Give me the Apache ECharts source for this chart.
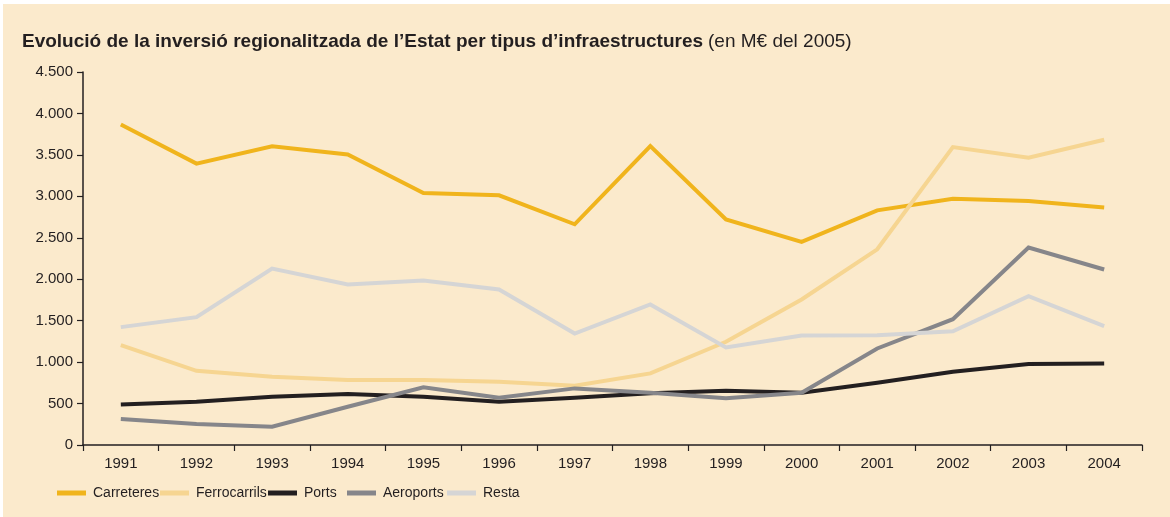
<!DOCTYPE html>
<html>
<head>
<meta charset="utf-8">
<script src="https://cdn.jsdelivr.net/npm/echarts@6/dist/echarts.min.js"></script>
<style>
  html, body { margin: 0; padding: 0; background: #ffffff; }
  #main { width: 1170px; height: 517px; }
</style>
</head>
<body>
<div id="main"></div>
<script>
  // anys
  let years = ['1991', '1992', '1993', '1994', '1995', '1996', '1997', '1998', '1999', '2000', '2001', '2002', '2003', '2004']
  // sèries (M€ del 2005)
  let names = ['Carreteres', 'Ferrocarrils', 'Ports', 'Aeroports', 'Resta']
  let carreteres = [3867, 3395, 3605, 3505, 3040, 3012, 2663, 3605, 2720, 2450, 2831, 2972, 2943, 2864]
  let ferrocarrils = [1205, 895, 823, 783, 783, 763, 715, 864, 1245, 1755, 2361, 3594, 3466, 3683]
  let ports = [490, 522, 582, 614, 582, 522, 570, 623, 654, 630, 751, 883, 976, 984]
  let aeroports = [313, 253, 220, 461, 695, 570, 683, 630, 563, 630, 1165, 1518, 2382, 2117]
  let resta = [1422, 1542, 2129, 1936, 1984, 1876, 1345, 1695, 1177, 1321, 1325, 1373, 1795, 1434]
  let yTicks = [0, 500, 1000, 1500, 2000, 2500, 3000, 3500, 4000, 4500]

  let ink = '#231f20'
  let font = "'Liberation Sans', sans-serif"
  let colors = ['#f0b41c', '#f6d591', '#231f20', '#86868a', '#d5d5d5']
  // posició de cada element de la llegenda
  let legendLeft = [57, 160, 268, 347, 447]

  function fmt(v) {
    return String(v).replace(/\B(?=(\d{3})+(?!\d))/g, '.')
  }

  function serie(i, data) {
    return {
      name: names[i],
      type: 'line',
      data: data,
      symbol: 'none',
      lineStyle: {width: 4, color: colors[i], join: 'miter'},
      itemStyle: {color: colors[i]}
    }
  }

  let legends = names.map(function (n, i) {
    return {
      left: legendLeft[i],
      top: 486,
      padding: 0,
      icon: 'rect',
      itemWidth: 29,
      itemHeight: 5,
      textStyle: {fontFamily: font, fontSize: 14, color: ink, padding: [0, 0, 0, 2]},
      data: [n]
    }
  })

  let chart = echarts.init(document.getElementById('main'))
  chart.setOption({
    animation: false,
    textStyle: {fontFamily: font, color: ink},
    graphic: [{
      type: 'rect',
      left: 3,
      top: 4,
      z: -10,
      shape: {width: 1167, height: 513},
      style: {fill: '#fbeacc'}
    }],
    title: {
      left: 17,
      top: 27,
      text: '{b|Evolució de la inversió regionalitzada de l’Estat per tipus d’infraestructures} {n|(en M€ del 2005)}',
      textStyle: {
        rich: {
          b: {fontFamily: font, fontWeight: 'bold', fontSize: 19, color: ink},
          n: {fontFamily: font, fontWeight: 'normal', fontSize: 19, color: ink}
        }
      }
    },
    legend: legends,
    grid: {left: 83, right: 28, top: 72, bottom: 72},
    xAxis: {
      type: 'category',
      data: years,
      boundaryGap: true,
      axisLine: {lineStyle: {color: ink, width: 1.5}},
      axisTick: {show: true, length: 6, lineStyle: {color: ink, width: 1.2}},
      axisLabel: {color: ink, fontSize: 15, margin: 11, fontFamily: font}
    },
    yAxis: {
      type: 'value',
      min: yTicks[0],
      max: yTicks[yTicks.length - 1],
      interval: 500,
      splitLine: {show: false},
      axisLine: {show: true, lineStyle: {color: ink, width: 1.5}},
      axisTick: {show: true, length: 6, lineStyle: {color: ink, width: 1.2}},
      axisLabel: {color: ink, fontSize: 15, margin: 10, fontFamily: font, formatter: fmt}
    },
    series: [
      serie(0, carreteres),
      serie(1, ferrocarrils),
      serie(2, ports),
      serie(3, aeroports),
      serie(4, resta)
    ]
  })
</script>
</body>
</html>
